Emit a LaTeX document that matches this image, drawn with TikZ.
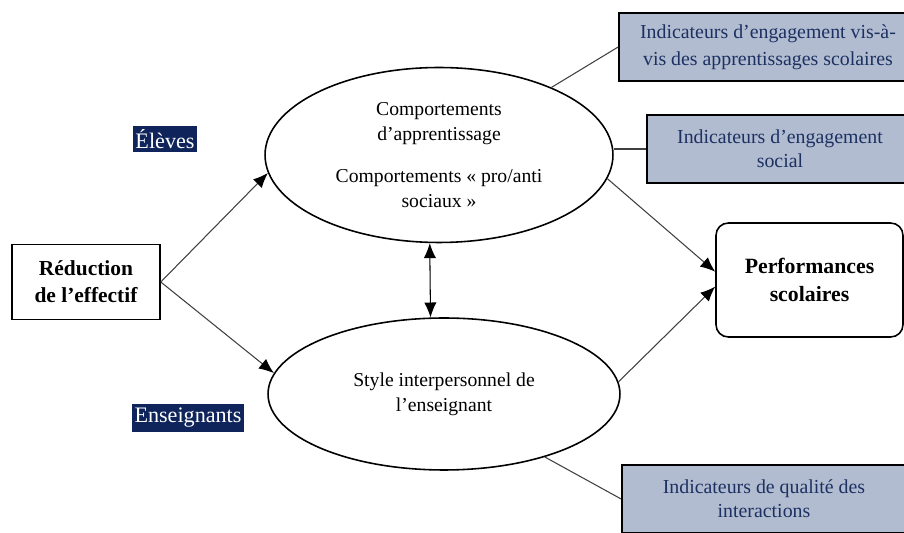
\documentclass[tikz,border=0pt]{standalone}
\usepackage{fontspec}
\setmainfont{Liberation Serif}
\usetikzlibrary{positioning, shapes.geometric, arrows.meta}
\definecolor{navylabel}{RGB}{14,36,90}
\definecolor{indfill}{RGB}{178,188,208}
\definecolor{indtext}{RGB}{28,48,98}
\tikzset{
	cause/.style={draw, rectangle, line width=0.9pt, align=center, font=\fontsize{12.2}{15.3}\selectfont\bfseries},
	outcome/.style={draw, rectangle, rounded corners=7pt, line width=0.9pt, align=center, font=\fontsize{12.4}{15.9}\selectfont\bfseries},
	process/.style={draw, ellipse, inner sep=0pt, line width=0.9pt, align=center, font=\fontsize{11.2}{14.2}\selectfont},
	% indicator boxes on the right
	indicator/.style={draw, rectangle, line width=1pt, fill=indfill, text=indtext, align=center, minimum height=1.36cm, font=\fontsize{11.3}{13.8}\selectfont},
	group/.style={rectangle, fill=navylabel, text=white, inner xsep=1.5pt, inner ysep=2.2pt, font=\fontsize{12.6}{14}\selectfont},
}

\begin{document}
\begin{tikzpicture}[x=0.02cm, y=-0.02cm]
\useasboundingbox (0,0) rectangle (904,533);

\node (reduc) [cause, minimum width=2.96cm, minimum height=1.5cm] at (86,282) {Réduction\\de l’effectif};

\node (eleves) [group] at (165,139) {Élèves};
\node (ens) [group] at (188,418) {Enseignants};

\node (up) [process, minimum width=6.96cm, minimum height=3.5cm] at (439,155) {Comportements\\d’apprentissage\\[10pt]Comportements « pro/anti\\sociaux »};

\node (low) [process, minimum width=7.04cm, minimum height=3.04cm] at (444,394) {Style interpersonnel de\\l’enseignant};

\node (perf) [outcome, minimum width=3.74cm, minimum height=2.28cm] at (809.5,280) {Performances\\scolaires};

\node (topind) [indicator, minimum width=5.96cm, font=\fontsize{11.3}{15.4}\selectfont] at (768,47) {Indicateurs d’engagement vis-à-\\vis des apprentissages scolaires};
\node (midind) [indicator, minimum width=5.32cm] at (780,149) {Indicateurs d’engagement\\social};
\node (botind) [indicator, minimum width=5.68cm] at (764,499) {Indicateurs de qualité des\\interactions};

\begin{scope}[black!75, line width=0.6pt, ->, >={Latex[length=8.5pt, width=7pt, color=black]}]
	\draw (reduc.east) -- (up.186.5);
	\draw (reduc.east) -- (low.173);
	\draw (up.-8) -- (perf.175.7);
	\draw (low.4.6) -- (perf.184.9);
	\draw [<->, black] (up.264) -- (low.100.4);
\end{scope}

\begin{scope}[black!75, line width=0.6pt]
	\draw (up.31) -- (topind.west);
	\draw (midind.west -| up.east) -- (midind.west);
	\draw (low.-32.4) -- (botind.west);
\end{scope}
\end{tikzpicture}
\end{document}
